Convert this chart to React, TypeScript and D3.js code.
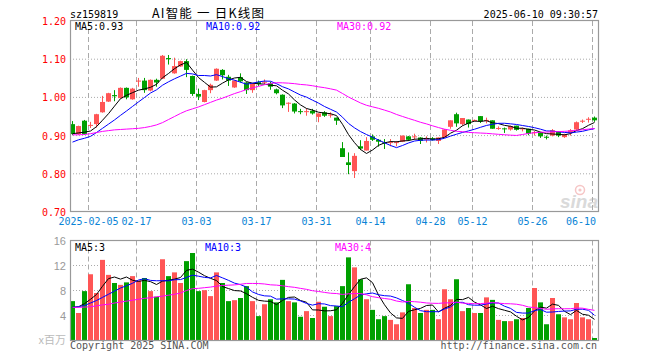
import React from "react";
import * as d3 from "d3";

const dates = ["01-23","01-24","01-27","02-05","02-06","02-07","02-10","02-11","02-12","02-13","02-14","02-17","02-18","02-19","02-20","02-21","02-24","02-25","02-26","02-27","02-28","03-03","03-04","03-05","03-06","03-07","03-10","03-11","03-12","03-13","03-14","03-17","03-18","03-19","03-20","03-21","03-24","03-25","03-26","03-27","03-28","03-31","04-01","04-02","04-03","04-07","04-08","04-09","04-10","04-11","04-14","04-15","04-16","04-17","04-18","04-21","04-22","04-23","04-24","04-25","04-28","04-29","04-30","05-06","05-07","05-08","05-09","05-12","05-13","05-14","05-15","05-16","05-19","05-20","05-21","05-22","05-23","05-26","05-27","05-28","05-29","05-30","06-03","06-04","06-05","06-06","06-09","06-10"];

const open = [0.930,0.904,0.939,0.926,0.930,0.961,0.989,1.006,0.998,1.025,
 0.995,1.042,1.044,1.018,1.046,1.049,1.103,1.063,1.081,1.095,
 1.056,1.009,0.988,1.019,1.044,1.072,1.054,1.026,1.053,1.039,
 1.019,1.040,1.040,1.037,1.021,1.007,0.985,0.984,0.964,0.962,
 0.965,0.949,0.961,0.953,0.947,0.867,0.830,0.807,0.872,0.861,
 0.898,0.889,0.882,0.881,0.881,0.884,0.898,0.897,0.895,0.890,
 0.893,0.886,0.895,0.923,0.956,0.930,0.942,0.939,0.951,0.940,
 0.940,0.919,0.919,0.916,0.926,0.918,0.918,0.908,0.909,0.897,
 0.900,0.910,0.896,0.907,0.916,0.938,0.943,0.947];

const high = [0.938,0.926,0.941,0.936,0.957,1.004,1.012,1.019,1.026,1.026,
 1.025,1.051,1.051,1.047,1.049,1.111,1.111,1.104,1.096,1.100,
 1.057,1.023,1.020,1.036,1.076,1.074,1.059,1.045,1.063,1.040,
 1.037,1.044,1.047,1.041,1.023,1.008,0.987,0.985,0.970,0.971,
 0.970,0.958,0.964,0.961,0.947,0.883,0.856,0.854,0.888,0.896,
 0.903,0.891,0.891,0.891,0.886,0.900,0.899,0.905,0.896,0.898,
 0.896,0.895,0.917,0.940,0.960,0.946,0.942,0.942,0.951,0.947,
 0.940,0.924,0.921,0.926,0.926,0.921,0.918,0.912,0.909,0.900,
 0.917,0.910,0.905,0.917,0.937,0.942,0.948,0.950];

const low = [0.901,0.902,0.902,0.920,0.921,0.960,0.988,0.990,0.997,0.995,
 0.994,1.028,1.012,1.016,1.028,1.048,1.086,1.062,1.080,1.053,
 1.004,0.993,0.987,1.011,1.043,1.047,1.030,1.025,1.039,1.009,
 1.012,1.030,1.035,1.020,1.008,0.972,0.962,0.958,0.956,0.952,
 0.955,0.935,0.949,0.947,0.928,0.844,0.799,0.789,0.862,0.861,
 0.886,0.871,0.865,0.872,0.872,0.883,0.886,0.889,0.878,0.882,
 0.887,0.878,0.895,0.918,0.923,0.926,0.921,0.937,0.933,0.932,
 0.918,0.915,0.907,0.913,0.913,0.911,0.901,0.900,0.894,0.890,
 0.898,0.896,0.894,0.900,0.914,0.933,0.934,0.936];

const close = [0.904,0.925,0.904,0.928,0.956,0.988,1.011,1.003,1.025,1.000,
 1.023,1.044,1.019,1.046,1.039,1.109,1.100,1.082,1.095,1.072,
 1.009,1.002,1.019,1.033,1.075,1.058,1.044,1.044,1.042,1.019,
 1.037,1.035,1.041,1.028,1.011,0.979,0.986,0.963,0.963,0.964,
 0.958,0.958,0.952,0.955,0.939,0.844,0.823,0.847,0.866,0.886,
 0.889,0.884,0.880,0.883,0.883,0.900,0.889,0.898,0.886,0.892,
 0.888,0.895,0.916,0.940,0.932,0.946,0.930,0.941,0.937,0.941,
 0.918,0.920,0.918,0.925,0.915,0.919,0.905,0.909,0.898,0.895,
 0.914,0.900,0.903,0.914,0.935,0.939,0.944,0.940];

const volume = [6.3,4.4,7.9,10.6,7.6,12.9,10.5,9.2,8.9,9.3,
 10.3,9.6,10.0,7.9,7.0,13.0,10.3,10.9,9.2,12.7,
 14.0,7.9,8.05,7.1,10.9,9.2,6.3,6.45,6.8,8.7,
 6.3,3.9,5.8,6.6,6.1,9.7,6.3,6.1,3.8,4.7,
 3.6,6.2,5.4,3.9,5.5,8.7,13.3,11.7,9.8,6.6,
 4.9,3.4,3.9,3.3,2.6,4.5,9.0,5.2,4.4,4.9,
 4.9,3.4,8.2,6.6,9.8,4.7,5.2,4.4,4.4,6.9,
 6.5,3.3,3.1,3.1,3.4,3.6,5.2,8.4,6.1,2.6,
 6.8,4.2,3.7,3.4,6.0,3.7,3.4,0.4];

// moving-average values at the left edge (their windows start before the shown data)
const priceMa5Head = [0.905,0.907,0.909,0.912];
const priceMa10Head = [0.883,0.889,0.893,0.898,0.908,0.919,0.930,0.941,0.953];
const priceMa30Head = [0.902,0.902,0.903,0.905,0.908,0.911,0.913,0.915,0.916,0.917,
 0.918,0.919,0.921,0.924,0.928,0.934,0.942,0.950,0.958,0.965,
 0.970,0.975,0.981,0.987,0.993,0.998,1.004,1.010,1.015];
const volMa5Head = [5.3,5.4,5.9,6.6];
const volMa10Head = [5.3,5.4,5.6,6.0,6.4,6.9,7.4,7.9,8.4];
const volMa30Head = [5.3,5.3,5.35,5.4,5.55,5.7,5.8,6.0,6.15,6.3,
 6.45,6.6,6.75,6.85,7.0,7.1,7.25,7.4,7.6,8.0,
 8.3,8.35,8.45,8.55,8.7,8.8,8.85,8.9,9.0];

const tickDates = ["02-05","02-17","03-03","03-17","03-31","04-14","04-28","05-12","05-26","06-10"];
const tickLabels = ["2025-02-05","02-17","03-03","03-17","03-31","04-14","04-28","05-12","05-26","06-10"];
const priceTicks = [1.2, 1.1, 1.0, 0.9, 0.8, 0.7];
const volTicks = [16, 12, 8, 4];

const priceLegend = ["MA5:0.93", "MA10:0.92", "MA30:0.92"];
const volLegend = ["MA5:3", "MA10:3", "MA30:4"];

const RED = "#ff5555";
const GREEN = "#00a000";
const MA_COLORS = ["#000000", "#0000ff", "#ff00ff"];
const MONO = "'DejaVu Sans Mono', monospace";

function movingAvg(values: number[], n: number, head: number[]): number[] {
  return values.map((_, i) =>
    i < head.length ? head[i] : (d3.mean(values.slice(i - n + 1, i + 1)) as number)
  );
}

export default function App() {
  const L = 70, R = 598;
  const mainTop = 21, mainBot = 212;
  const volTop = 240.5, volBot = 340.5;

  const x = d3.scaleBand<string>().domain(dates).range([L, R]);
  const yP = d3.scaleLinear().domain([0.7, 1.2]).range([mainBot, mainTop]);
  const yV = d3.scaleLinear().domain([0, 16]).range([volBot, volTop]);
  const cx = (i: number) => (x(dates[i]) as number) + 2.5;

  const pMas = [
    movingAvg(close, 5, priceMa5Head),
    movingAvg(close, 10, priceMa10Head),
    movingAvg(close, 30, priceMa30Head),
  ];
  const vMas = [
    movingAvg(volume, 5, volMa5Head),
    movingAvg(volume, 10, volMa10Head),
    movingAvg(volume, 30, volMa30Head),
  ];
  const lineP = d3.line<number>().x((_, i) => cx(i)).y((v) => yP(v));
  const lineV = d3.line<number>().x((_, i) => cx(i)).y((v) => yV(v));

  const legendX = [75, 206, 337];

  return (
    <svg
      width={660}
      height={360}
      style={{ position: "absolute", left: 0, top: 0, background: "#fff" }}
      fontFamily={MONO}
    >
      <rect x={0} y={0} width={660} height={360} fill="#fff" />
      {/* header */}
      <text x={70} y={18} fontSize={10} fill="#000">sz159819</text>
      <text x={152} y={18} fontSize={12.5} fill="#000" fontFamily="'Noto Sans CJK SC', sans-serif" textLength={112} lengthAdjust="spacing">AI智能 一 日K线图</text>
      <text x={598} y={18} fontSize={10} fill="#000" textAnchor="end">2025-06-10 09:30:57</text>

      {/* sina watermark */}
      <g opacity={0.9}>
        <circle cx={580} cy={190} r={4.5} fill="none" stroke="#f6c0c0" strokeWidth={1.5} />
        <circle cx={580} cy={190} r={1.6} fill="#f6c0c0" />
        <text x={560} y={208} fontSize={19} fontWeight="bold" fontStyle="italic" fill="#d6d6d6" fontFamily="'Liberation Sans', sans-serif">sina</text>
      </g>

      {/* main grid */}
      {priceTicks.slice(1, -1).map((t) => (
        <line key={t} x1={L} x2={R} y1={yP(t)} y2={yP(t)} stroke="#aaa" strokeDasharray="1,2" />
      ))}
      {tickDates.map((d) => (
        <line key={"m" + d} x1={(x(d) as number) + 0.5} x2={(x(d) as number) + 0.5} y1={mainTop} y2={mainBot} stroke="#aaa" strokeDasharray="5,3" />
      ))}
      {/* volume grid */}
      {volTicks.slice(1).map((t) => (
        <line key={t} x1={L} x2={R} y1={yV(t)} y2={yV(t)} stroke="#aaa" strokeDasharray="1,2" />
      ))}
      {tickDates.map((d) => (
        <line key={"v" + d} x1={(x(d) as number) + 0.5} x2={(x(d) as number) + 0.5} y1={volTop} y2={volBot} stroke="#aaa" strokeDasharray="5,3" />
      ))}

      {/* candles */}
      {dates.map((d, i) => {
        const up = close[i] >= open[i];
        const col = up ? RED : GREEN;
        const top = yP(Math.max(open[i], close[i]));
        const h = Math.max(1, Math.abs(yP(open[i]) - yP(close[i])));
        return (
          <g key={d}>
            <line x1={cx(i)} x2={cx(i)} y1={yP(high[i])} y2={yP(low[i])} stroke={col} strokeWidth={1} />
            <rect x={x(d) as number} y={top} width={5} height={h} fill={col} />
          </g>
        );
      })}

      {/* price MAs */}
      {pMas.map((m, k) => (
        <path key={k} d={lineP(m) as string} fill="none" stroke={MA_COLORS[k]} strokeWidth={1} />
      ))}

      {/* volume bars */}
      {dates.map((d, i) => {
        const up = close[i] >= open[i];
        return (
          <rect key={d} x={x(d) as number} y={yV(volume[i])} width={5} height={volBot - yV(volume[i])} fill={up ? RED : GREEN} />
        );
      })}
      {vMas.map((m, k) => (
        <path key={k} d={lineV(m) as string} fill="none" stroke={MA_COLORS[k]} strokeWidth={1} />
      ))}

      {/* frames */}
      <rect x={L + 0.5} y={mainTop - 0.5} width={R - L} height={mainBot - mainTop} fill="none" stroke="#999" strokeWidth={1.2} />
      <rect x={L + 0.5} y={volTop} width={R - L} height={volBot - volTop} fill="none" stroke="#999" strokeWidth={1.2} />

      {/* legends */}
      {priceLegend.map((t, k) => (
        <text key={t} x={legendX[k]} y={30} fontSize={10} fill={MA_COLORS[k]}>{t}</text>
      ))}
      {volLegend.map((t, k) => (
        <text key={t} x={[75, 205, 335][k]} y={251} fontSize={10} fill={MA_COLORS[k]}>{t}</text>
      ))}

      {/* price axis labels */}
      {priceTicks.map((t) => (
        <text key={t} x={66} y={yP(t) + 4} fontSize={10} fill="#ff0000" textAnchor="end">{t.toFixed(2)}</text>
      ))}
      {/* volume axis labels */}
      {volTicks.map((t) => (
        <text key={t} x={66} y={yV(t) + 4} fontSize={11} fill="#999" textAnchor="end" fontFamily="'Liberation Sans', sans-serif">{t}</text>
      ))}
      <text x={66} y={344} fontSize={11} fill="#bbb" textAnchor="end" fontFamily="'Noto Sans CJK SC', sans-serif">x百万</text>

      {/* date labels */}
      {tickDates.map((d, k) => {
        const px = (x(d) as number) + 0.5;
        const w = tickLabels[k].length * 6;
        const clamp = px + w / 2 > R;
        return (
          <text key={d} x={clamp ? R - 2 : px} y={225} fontSize={10} fill="#0a84d6" textAnchor={clamp ? "end" : "middle"}>{tickLabels[k]}</text>
        );
      })}

      {/* footer */}
      <text x={70} y={349} fontSize={10} fill="#555">Copyright 2025 SINA.COM</text>
      <text x={597} y={349} fontSize={10} fill="#555" textAnchor="end">http://finance.sina.com.cn</text>
    </svg>
  );
}
